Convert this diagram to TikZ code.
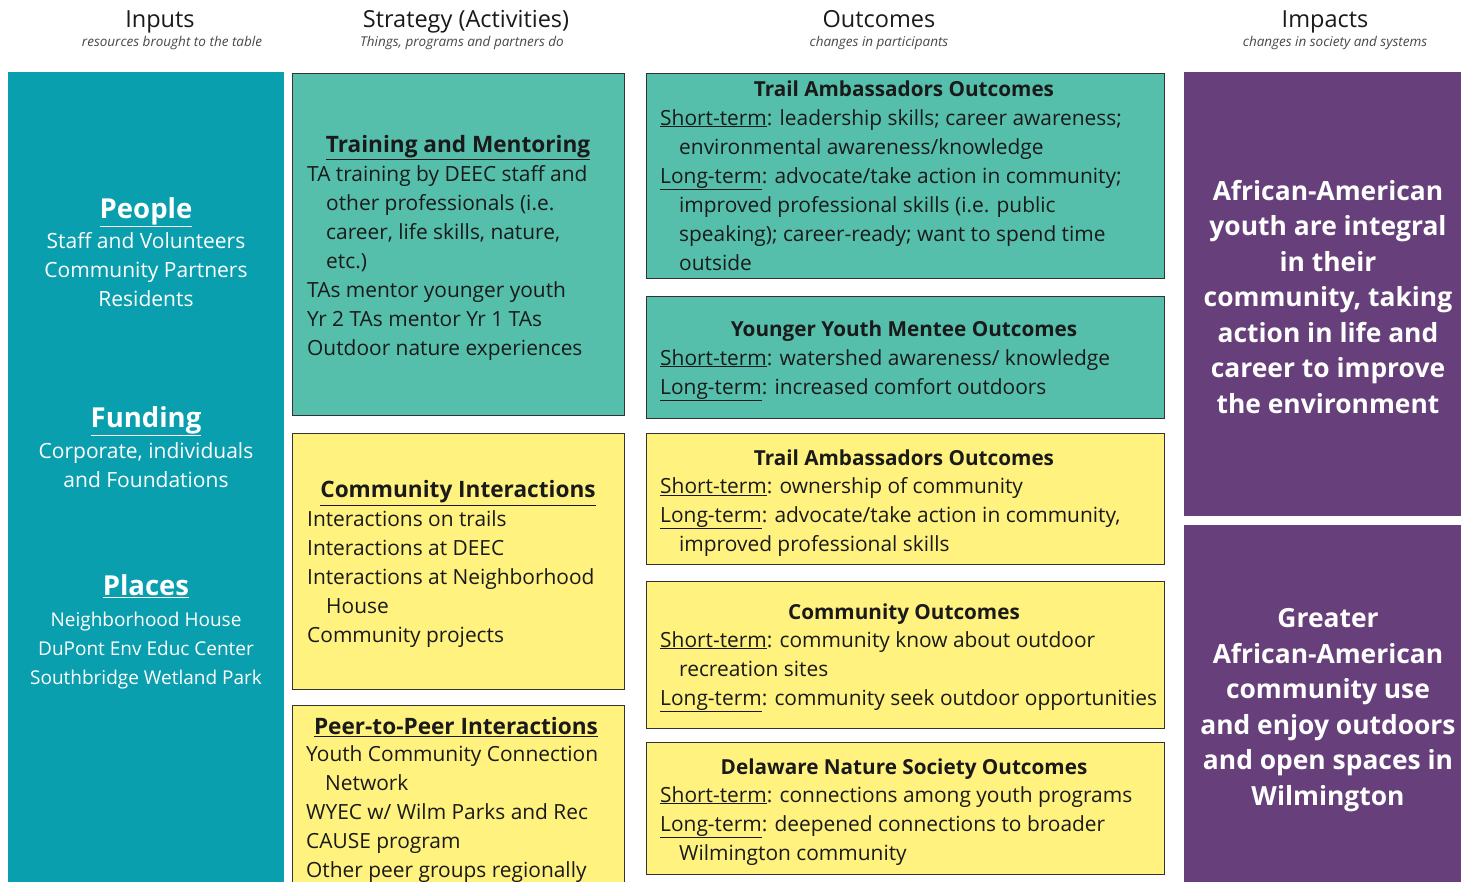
\documentclass[tikz,border=0pt]{standalone}
\usepackage{fontspec}
\setmainfont{Open Sans}
\definecolor{inteal}{HTML}{0A9FAE}
\definecolor{boxteal}{HTML}{55BFAB}
\definecolor{boxyel}{HTML}{FFF27E}
\definecolor{imppurple}{HTML}{673F7B}
\definecolor{edge}{HTML}{333333}
\definecolor{txt}{HTML}{1A1A1A}
\newcommand{\hi}{\hspace*{19pt}}
\begin{document}
\begin{tikzpicture}[x=1pt,y=-1pt,
  colbox/.style={draw=none,inner sep=0pt,anchor=north west},
  actbox/.style={draw=edge,line width=1.3pt,inner sep=0pt,anchor=north west},
  head/.style={font=\fontsize{23.5}{28}\selectfont,text=txt,inner sep=0pt,anchor=base},
  sub/.style={font=\fontsize{13.5}{16}\itshape,text=txt!80,inner sep=0pt,anchor=base},
  intitle/.style={font=\fontsize{27.5}{32}\bfseries\selectfont,text=white,inner sep=0pt},
  initem/.style={font=\fontsize{21}{29}\selectfont,text=white,align=center,inner sep=0pt,anchor=north},
  plitem/.style={font=\fontsize{19}{29}\selectfont,text=white,align=center,inner sep=0pt,anchor=north},
  btitle/.style={font=\fontsize{22.6}{29}\bfseries\selectfont,text=txt,inner sep=0pt},
  otitle/.style={font=\fontsize{20.7}{29}\bfseries\selectfont,text=txt,inner sep=0pt,anchor=base},
  blines/.style={font=\fontsize{20.9}{29}\selectfont,text=txt,align=left,inner sep=0pt,anchor=north west},
  imptext/.style={font=\fontsize{26.4}{35.5}\bfseries\selectfont,text=white,align=center,inner sep=0pt}
]
\useasboundingbox (0,0) rectangle (1461,882);
\fill[white] (0,0) rectangle (1461,882);
% headers
\node[head] (h1) at (160,27.5) {Inputs};
\node[sub] (s1) at (172,47) {resources brought to the table};
\node[head] (h2) at (466,27.5) {Strategy (Activities)};
\node[sub] (s2) at (462,47) {Things, programs and partners do};
\node[head] (h3) at (879,27.5) {Outcomes};
\node[sub] (s3) at (879,47) {changes in participants};
\node[head] (h4) at (1325,27.5) {Impacts};
\node[sub] (s4) at (1335,47) {changes in society and systems};
% inputs column
\node[colbox,fill=inteal,minimum width=276pt,minimum height=812pt] (inputs) at (8,72) {};
\node[intitle] (people) at (146,212) {\underline{People}};
\node[initem] (peoplel) at (146,232) {Staff and Volunteers\\Community Partners\\Residents};
\node[intitle] (funding) at (146,421) {\underline{Funding}};
\node[initem] (fundl) at (146,442) {Corporate, individuals\\and Foundations};
\node[intitle] (places) at (146,586) {\underline{Places}};
\node[plitem] (placesl) at (146,612) {Neighborhood House\\DuPont Env Educ Center\\Southbridge Wetland Park};
% strategy boxes
\node[actbox,fill=boxteal,minimum width=332pt,minimum height=342pt] (st1) at (292,73) {};
\node[actbox,fill=boxyel,minimum width=332pt,minimum height=256pt] (st2) at (292,433) {};
\node[actbox,fill=boxyel,minimum width=332pt,minimum height=190pt] (st3) at (292,705) {};
\node[btitle] (st1t) at (458,148) {\underline{Training and Mentoring}};
\node[blines] (st1l) at (307,165) {TA training by DEEC staff and\\\hi other professionals (i.e.\\\hi career, life skills, nature,\\\hi etc.)\\TAs mentor younger youth\\Yr 2 TAs mentor Yr 1 TAs\\Outdoor nature experiences};
\node[btitle] (st2t) at (458,493) {\underline{Community Interactions}};
\node[blines] (st2l) at (307,510) {Interactions on trails\\Interactions at DEEC\\Interactions at Neighborhood\\\hi House\\Community projects};
\node[btitle] (st3t) at (456,727) {\underline{Peer-to-Peer Interactions}};
\node[blines] (st3l) at (306,745) {Youth Community Connection\\\hi Network\\WYEC w/ Wilm Parks and Rec\\CAUSE program\\Other peer groups regionally};
% outcome boxes
\node[actbox,fill=boxteal,minimum width=518pt,minimum height=205pt] (oa) at (646,73) {};
\node[actbox,fill=boxteal,minimum width=518pt,minimum height=122pt] (ob) at (646,296) {};
\node[actbox,fill=boxyel,minimum width=518pt,minimum height=131pt] (oc) at (646,433) {};
\node[actbox,fill=boxyel,minimum width=518pt,minimum height=147pt] (od) at (646,581) {};
\node[actbox,fill=boxyel,minimum width=518pt,minimum height=132pt] (oe) at (646,742) {};
\node[otitle] (oat) at (904,97) {Trail Ambassadors Outcomes};
\node[blines] (oal) at (660,109) {\underline{Short-term}: leadership skills; career awareness;\\\hi environmental awareness/knowledge\\\underline{Long-term}: advocate/take action in community;\\\hi improved professional skills (i.e. public\\\hi speaking); career-ready; want to spend time\\\hi outside};
\node[otitle] (obt) at (904,337) {Younger Youth Mentee Outcomes};
\node[blines] (obl) at (660,349) {\underline{Short-term}: watershed awareness/ knowledge\\\underline{Long-term}: increased comfort outdoors};
\node[otitle] (oct) at (904,465) {Trail Ambassadors Outcomes};
\node[blines] (ocl) at (660,477) {\underline{Short-term}: ownership of community\\\underline{Long-term}: advocate/take action in community,\\\hi improved professional skills};
\node[otitle] (odt) at (904,619) {Community Outcomes};
\node[blines] (odl) at (660,631) {\underline{Short-term}: community know about outdoor\\\hi recreation sites\\\underline{Long-term}: community seek outdoor opportunities};
\node[otitle] (oet) at (904,774) {Delaware Nature Society Outcomes};
\node[blines] (oel) at (660,786) {\underline{Short-term}: connections among youth programs\\\underline{Long-term}: deepened connections to broader\\\hi Wilmington community};
% impacts
\node[colbox,fill=imppurple,minimum width=277pt,minimum height=444pt] (imp1) at (1184,72) {};
\node[colbox,fill=imppurple,minimum width=277pt,minimum height=360pt] (imp2) at (1184,525) {};
\node[imptext] (imp1t) at (1328,297) {African-American\\youth are integral\\in their\\community, taking\\action in life and\\career to improve\\the environment};
\node[imptext] (imp2t) at (1328,710) {Greater\\African-American\\community use\\and enjoy outdoors\\and open spaces in\\Wilmington};
\end{tikzpicture}
\end{document}
